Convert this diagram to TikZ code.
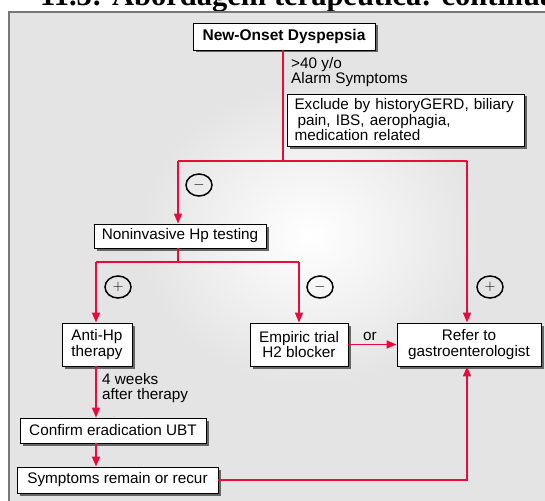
\documentclass[tikz,border=0pt]{standalone}
\usepackage{fontspec}
\setmainfont{Liberation Sans}
\newfontfamily\titlefont{Liberation Serif}
\usetikzlibrary{arrows.meta,shadows,shapes.geometric}
\definecolor{flowred}{RGB}{232,12,58}
\definecolor{panelgray}{RGB}{228,228,228}
\definecolor{panelline}{RGB}{120,120,120}
\tikzset{
  box/.style={draw=black, line width=0.9pt, fill=white, inner sep=0pt,
    align=center, font=\fontsize{15.3}{15.5}\selectfont,
    drop shadow={shadow xshift=2.5pt, shadow yshift=-2.5pt, fill=black!60, opacity=1}},
  flow/.style={draw=flowred, line width=1.6pt},
  arr/.style={flow, -{Triangle[width=8pt,length=10pt]}},
  sign/.style={draw=black, line width=1.5pt, ellipse, minimum width=26pt,
    minimum height=22pt, inner sep=0pt, font=\fontsize{15}{15}\selectfont},
  note/.style={align=left, inner sep=0pt, font=\fontsize{15.3}{15}\selectfont}
}
\begin{document}
\begin{tikzpicture}[x=1pt,y=-1pt]
\useasboundingbox (0,0) rectangle (545,500);
\clip (0,0) rectangle (545,500);

% title line, cut by the top edge
\node[anchor=base west, inner sep=0pt, font=\titlefont\bfseries\fontsize{30.5}{30.5}\selectfont]
  (title) at (40,5.5) {11.3: Abordagem terapêutica: continuação};

% background panel with a lighter centre
\fill[panelgray] (9,12) rectangle (560,510);
\shade[inner color=white, outer color=panelgray] (310,235) ellipse (170 and 150);
\draw[panelline, line width=2pt] (9,520) -- (9,12) -- (560,12);

% boxes
\node[box, minimum width=182pt, minimum height=27pt, font=\bfseries\fontsize{15.5}{15.5}\selectfont]
  (onset) at (284,36.5) {New-Onset Dyspepsia};
\node[box, minimum width=237pt, minimum height=52pt, align=left, text width=222pt]
  (excl) at (405.5,120) {Exclude by historyGERD, biliary\\\hspace{3pt}pain, IBS, aerophagia,\\medication related};
\node[box, minimum width=172pt, minimum height=24pt] (hptest) at (180,236) {Noninvasive Hp testing};
\node[box, minimum width=70pt, minimum height=43pt] (antihp) at (97,344.5) {Anti-Hp\\therapy};
\node[box, minimum width=98pt, minimum height=43pt] (empiric) at (299,344.5) {Empiric trial\\H2 blocker};
\node[box, minimum width=144pt, minimum height=43pt] (refer) at (469,344.5) {Refer to\\gastroenterologist};
\node[box, minimum width=186pt, minimum height=25pt] (confirm) at (113,430.5) {Confirm eradication UBT};
\node[box, minimum width=201pt, minimum height=26pt] (recur) at (117.5,480) {Symptoms remain or recur};

% junction points
\coordinate (split) at (283,161);
\coordinate (splitL) at (178,161);
\coordinate (splitR) at (467,161);
\coordinate (hpsplit) at (178,262);
\coordinate (hpL) at (96,262);
\coordinate (hpR) at (299,262);
\coordinate (back) at (467,480);

% connectors
\draw[flow] (onset.south -| split) -- (split);
\draw[flow] (splitL) -- (splitR);
\draw[arr] (splitL) -- (splitL |- hptest.north);
\draw[arr] (splitR) -- (splitR |- refer.north);
\draw[flow] (hptest.south -| hpsplit) -- (hpsplit);
\draw[flow] (hpL) -- (hpR);
\draw[arr] (hpL) -- (hpL |- antihp.north);
\draw[arr] (hpR) -- (hpR |- empiric.north);
\draw[arr] (empiric.east) -- (refer.west);
\draw[arr] (antihp.south -| hpL) -- (hpL |- confirm.north);
\draw[arr] (confirm.south -| hpL) -- (hpL |- recur.north);
\draw[arr] (recur.east) -- (back) -- (back |- refer.south);

% labels
\node[note, anchor=north west] (age) at (291,57) {>40 y/o\\Alarm Symptoms};
\node[note, anchor=north west] (weeks) at (102,373) {4 weeks\\after therapy};
\node[note] (orlab) at (370,336) {or};

% result signs
\node[sign] (neg1) at (199,185) {$-$};
\node[sign] (pos1) at (118,287) {$+$};
\node[sign] (neg2) at (320,287) {$-$};
\node[sign] (pos2) at (490,287) {$+$};
\end{tikzpicture}
\end{document}
